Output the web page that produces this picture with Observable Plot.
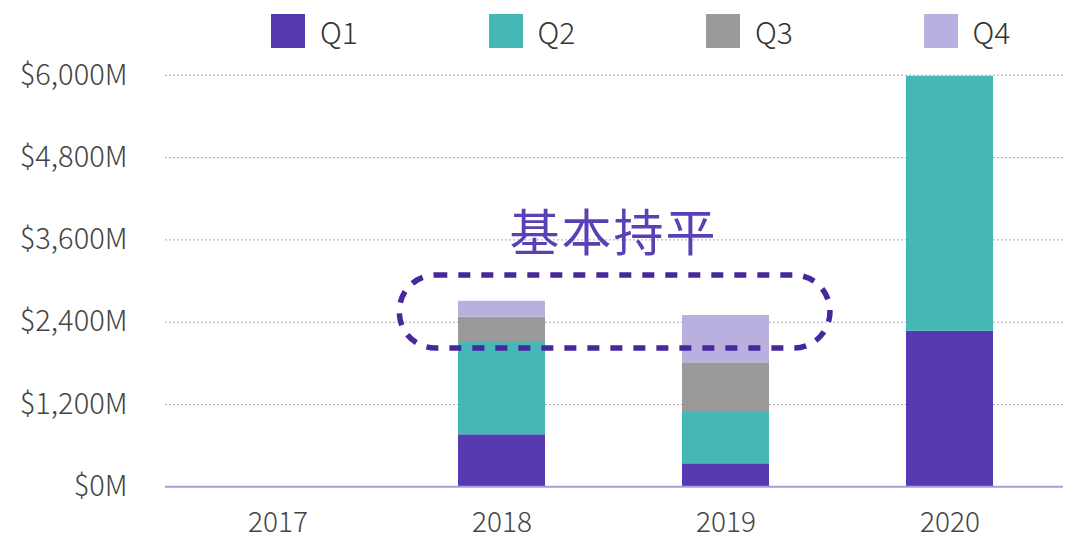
<!DOCTYPE html>
<html><head><meta charset="utf-8">
<script src="https://cdn.jsdelivr.net/npm/d3@7"></script>
<script src="https://cdn.jsdelivr.net/npm/@observablehq/plot@0.6"></script>
<style>
body{margin:0;background:#fff;}
#wrap{position:relative;width:1080px;height:552px;font-family:"Noto Sans CJK SC","Noto Sans",sans-serif;}
#legend{position:absolute;left:271px;top:14px;display:flex;}
.item{display:flex;align-items:center;width:217.5px;height:34px;}
.sw{width:34px;height:34px;margin-right:15px;}
.lab{font-size:30px;font-weight:300;color:#333;line-height:34px;}
svg text{font-weight:300;}
</style></head><body><div id="wrap"><div id="legend"></div></div>
<script>
const years = ["2017", "2018", "2019", "2020"];
const quarters = ["Q1", "Q2", "Q3", "Q4"];
const colors = ["#553ab2", "#44b7b6", "#9a9a9a", "#b9b0e0"];
const q1 = [0, 758, 335, 2268];
const q2 = [0, 1345, 763, 3717];
const q3 = [0, 369, 710, 0];
const q4 = [0, 233, 689, 0];
const yTicks = [0, 1200, 2400, 3600, 4800, 6000];
const note = "基本持平";
const noteValue = 3630;
const ringYears = ["2018", "2019"];
const ringValues = [2017, 3080];

const series = [q1, q2, q3, q4];
const data = years.flatMap((yr, i) => quarters.map((q, j) => ({year: yr, quarter: q, value: series[j][i]})));

const legend = document.getElementById("legend");
quarters.forEach((q, j) => {
  const it = document.createElement("div"); it.className = "item";
  const sw = document.createElement("div"); sw.className = "sw"; sw.style.background = colors[j];
  const lb = document.createElement("div"); lb.className = "lab"; lb.textContent = q;
  it.append(sw, lb); legend.append(it);
});

function ringMark(index, scales) {
  const sx = scales.x, sy = scales.y;
  const bw = sx.bandwidth();
  const step = sx.step ? sx.step() : bw;
  const x0 = sx(ringYears[0]) - 0.262 * step;
  const x1 = sx(ringYears[1]) + bw + 0.272 * step;
  const yTop = sy(ringValues[1]), yBot = sy(ringValues[0]);
  const g = d3.create("svg:g");
  g.append("rect")
    .attr("x", x0).attr("y", yTop).attr("width", x1 - x0).attr("height", yBot - yTop)
    .attr("rx", 36).attr("ry", 36)
    .attr("fill", "none").attr("stroke", "#46279c").attr("stroke-width", 5.5)
    .attr("stroke-dasharray", "12,11");
  const cx = (sx(ringYears[0]) + sx(ringYears[1]) + bw) / 2;
  g.append("text")
    .attr("x", cx).attr("y", sy(noteValue))
    .attr("text-anchor", "middle").attr("dominant-baseline", "middle")
    .attr("font-size", 50).attr("fill", "#5a40b5").style("font-weight", 400)
    .attr("letter-spacing", 2)
    .text(note);
  return g.node();
}

const chart = Plot.plot({
  width: 1080,
  height: 552,
  marginLeft: 165,
  marginRight: 17,
  marginTop: 74.8,
  marginBottom: 65.7,
  style: {fontFamily: '"Noto Sans CJK SC","Noto Sans",sans-serif', fontSize: "28px", color: "#444", background: "transparent"},
  x: {domain: years, paddingInner: 0.61, paddingOuter: 0.305, label: null},
  y: {domain: [0, 6000], label: null},
  color: {domain: quarters, range: colors},
  marks: [
    Plot.gridY(yTicks.slice(1), {stroke: "#aaa", strokeOpacity: 1, strokeDasharray: "2,2"}),
    Plot.barY(data, {x: "year", y: "value", fill: "quarter"}),
    Plot.ruleY([0], {stroke: "#a99ed8", strokeWidth: 2}),
    Plot.axisY({ticks: yTicks, tickSize: 0, tickPadding: 38, tickFormat: d => "$" + d3.format(",")(d) + "M", fontSize: 29}),
    Plot.axisX({tickSize: 0, tickPadding: 25, fontSize: 28}),
    ringMark
  ]
});
document.getElementById("wrap").prepend(chart);
chart.style.position = "absolute"; chart.style.left = "0"; chart.style.top = "0";
</script></body></html>
